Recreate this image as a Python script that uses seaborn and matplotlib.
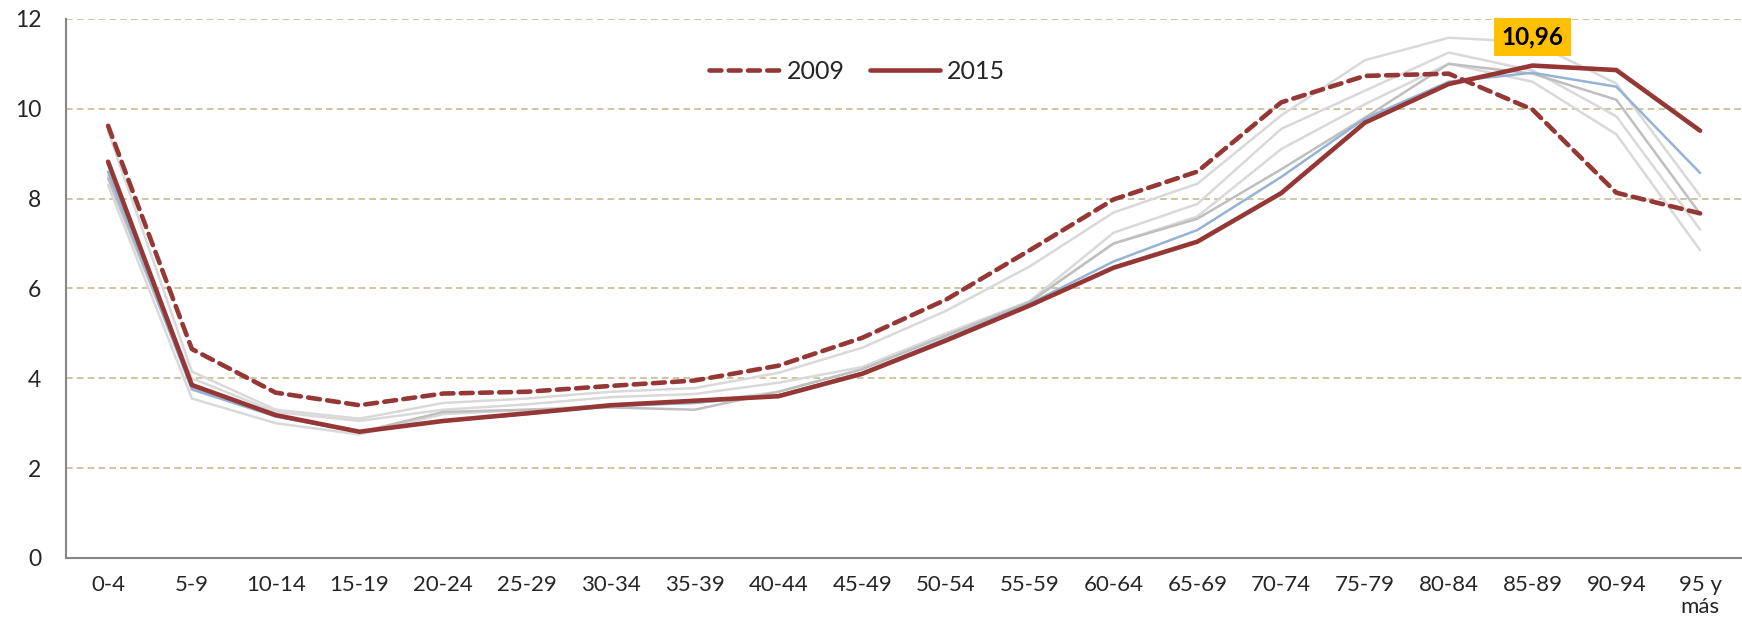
import numpy as np
import pandas as pd
import matplotlib.pyplot as plt
import seaborn as sns
from matplotlib.ticker import FixedLocator

# --------------------------
# Data
# --------------------------
ages = ['0-4', '5-9', '10-14', '15-19', '20-24', '25-29', '30-34', '35-39',
        '40-44', '45-49', '50-54', '55-59', '60-64', '65-69', '70-74',
        '75-79', '80-84', '85-89', '90-94', '95 y\nmás']

v2009 = [9.62, 4.65, 3.68, 3.40, 3.66, 3.70, 3.83, 3.95, 4.28, 4.90,
         5.75, 6.85, 7.98, 8.60, 10.14, 10.73, 10.78, 9.98, 8.13, 7.67]
v2010 = [9.50, 4.15, 3.30, 3.10, 3.45, 3.55, 3.70, 3.78, 4.12, 4.68,
         5.50, 6.49, 7.69, 8.33, 9.85, 11.08, 11.58, 11.48, 10.56, 8.06]
v2011 = [8.50, 4.00, 3.25, 3.05, 3.30, 3.42, 3.58, 3.65, 3.90, 4.25,
         5.00, 5.72, 7.24, 7.88, 9.55, 10.40, 11.25, 10.85, 9.83, 7.31]
v2012 = [8.30, 3.55, 3.00, 2.75, 3.20, 3.30, 3.40, 3.45, 3.70, 4.20,
         4.95, 5.70, 7.00, 7.60, 9.10, 10.10, 11.00, 10.60, 9.43, 6.85]
v2013 = [8.45, 3.80, 3.15, 2.80, 3.25, 3.30, 3.35, 3.30, 3.70, 4.20,
         4.95, 5.70, 7.00, 7.55, 8.65, 9.80, 11.00, 10.78, 10.20, 7.66]
v2014 = [8.60, 3.75, 3.15, 2.80, 3.05, 3.20, 3.38, 3.45, 3.62, 4.12,
         4.88, 5.66, 6.60, 7.30, 8.48, 9.78, 10.60, 10.80, 10.49, 8.57]
v2015 = [8.82, 3.85, 3.18, 2.81, 3.05, 3.22, 3.40, 3.50, 3.60, 4.10,
         4.84, 5.62, 6.46, 7.04, 8.12, 9.69, 10.55, 10.96, 10.86, 9.51]

peak_label = '10,96'
peak_pos = 17

# --------------------------
# Plot
# --------------------------
sns.set_style('white')
plt.rcParams['font.family'] = ['Lato', 'DejaVu Sans']

pos = np.arange(len(ages))
red = '#953735'

fig = plt.figure(figsize=(17.42, 6.28), dpi=100)
ax = fig.add_axes([0.038, 0.1115, 0.962, 0.8585])

# background years
for vals, col in [(v2010, '#d9d9d9'), (v2011, '#d9d9d9'), (v2012, '#d9d9d9'),
                  (v2013, '#bfbfbf'), (v2014, '#95b3d7')]:
    sns.lineplot(x=pos, y=vals, color=col, linewidth=1.8, ax=ax, legend=False)

sns.lineplot(x=pos, y=v2009, color=red, linewidth=3.3, ax=ax, label='2009')
ax.lines[-1].set_dashes((2.6, 1.6))
ax.lines[-1].set_dash_capstyle('round')
sns.lineplot(x=pos, y=v2015, color=red, linewidth=3.3, ax=ax, label='2015')
ax.lines[-1].set_solid_capstyle('round')

ax.text(peak_pos, 11.6, peak_label, ha='center', va='center',
        fontsize=17.5, fontweight='bold', color='black',
        bbox=dict(boxstyle='square,pad=0.3', fc='#ffc000', ec='none'))

ax.set_xlim(-0.5, len(ages) - 0.5)
ax.set_ylim(0, 12)
ax.set_yticks([0, 2, 4, 6, 8, 10, 12])
ax.set_xticks(pos)
ax.set_xticklabels(ages, fontsize=16, linespacing=1.15)
ax.xaxis.set_minor_locator(FixedLocator(np.arange(-0.5, len(ages), 1)))
ax.tick_params(axis='x', which='major', length=0, pad=12)
ax.tick_params(axis='x', which='minor', length=6, width=1.5, color='#868686', direction='out')
ax.tick_params(axis='y', length=6, width=1.5, color='#868686', direction='out',
               labelsize=16.5, pad=12)
ax.set_xlabel('')
ax.set_ylabel('')

ax.yaxis.grid(True, color='#c6bb92', linestyle=(0, (4, 2.5)), linewidth=1.2)
ax.xaxis.grid(False)
ax.set_axisbelow(True)
for s in ['top', 'right']:
    ax.spines[s].set_visible(False)
for s in ['left', 'bottom']:
    ax.spines[s].set_color('#868686')
    ax.spines[s].set_linewidth(1.5)

ax.legend(loc='center', bbox_to_anchor=(0.472, 0.902), ncol=2, frameon=False,
          fontsize=18, handlelength=2.8, handletextpad=0.3, columnspacing=1.0)

fig.savefig('out.png', dpi=100)
plt.close()
